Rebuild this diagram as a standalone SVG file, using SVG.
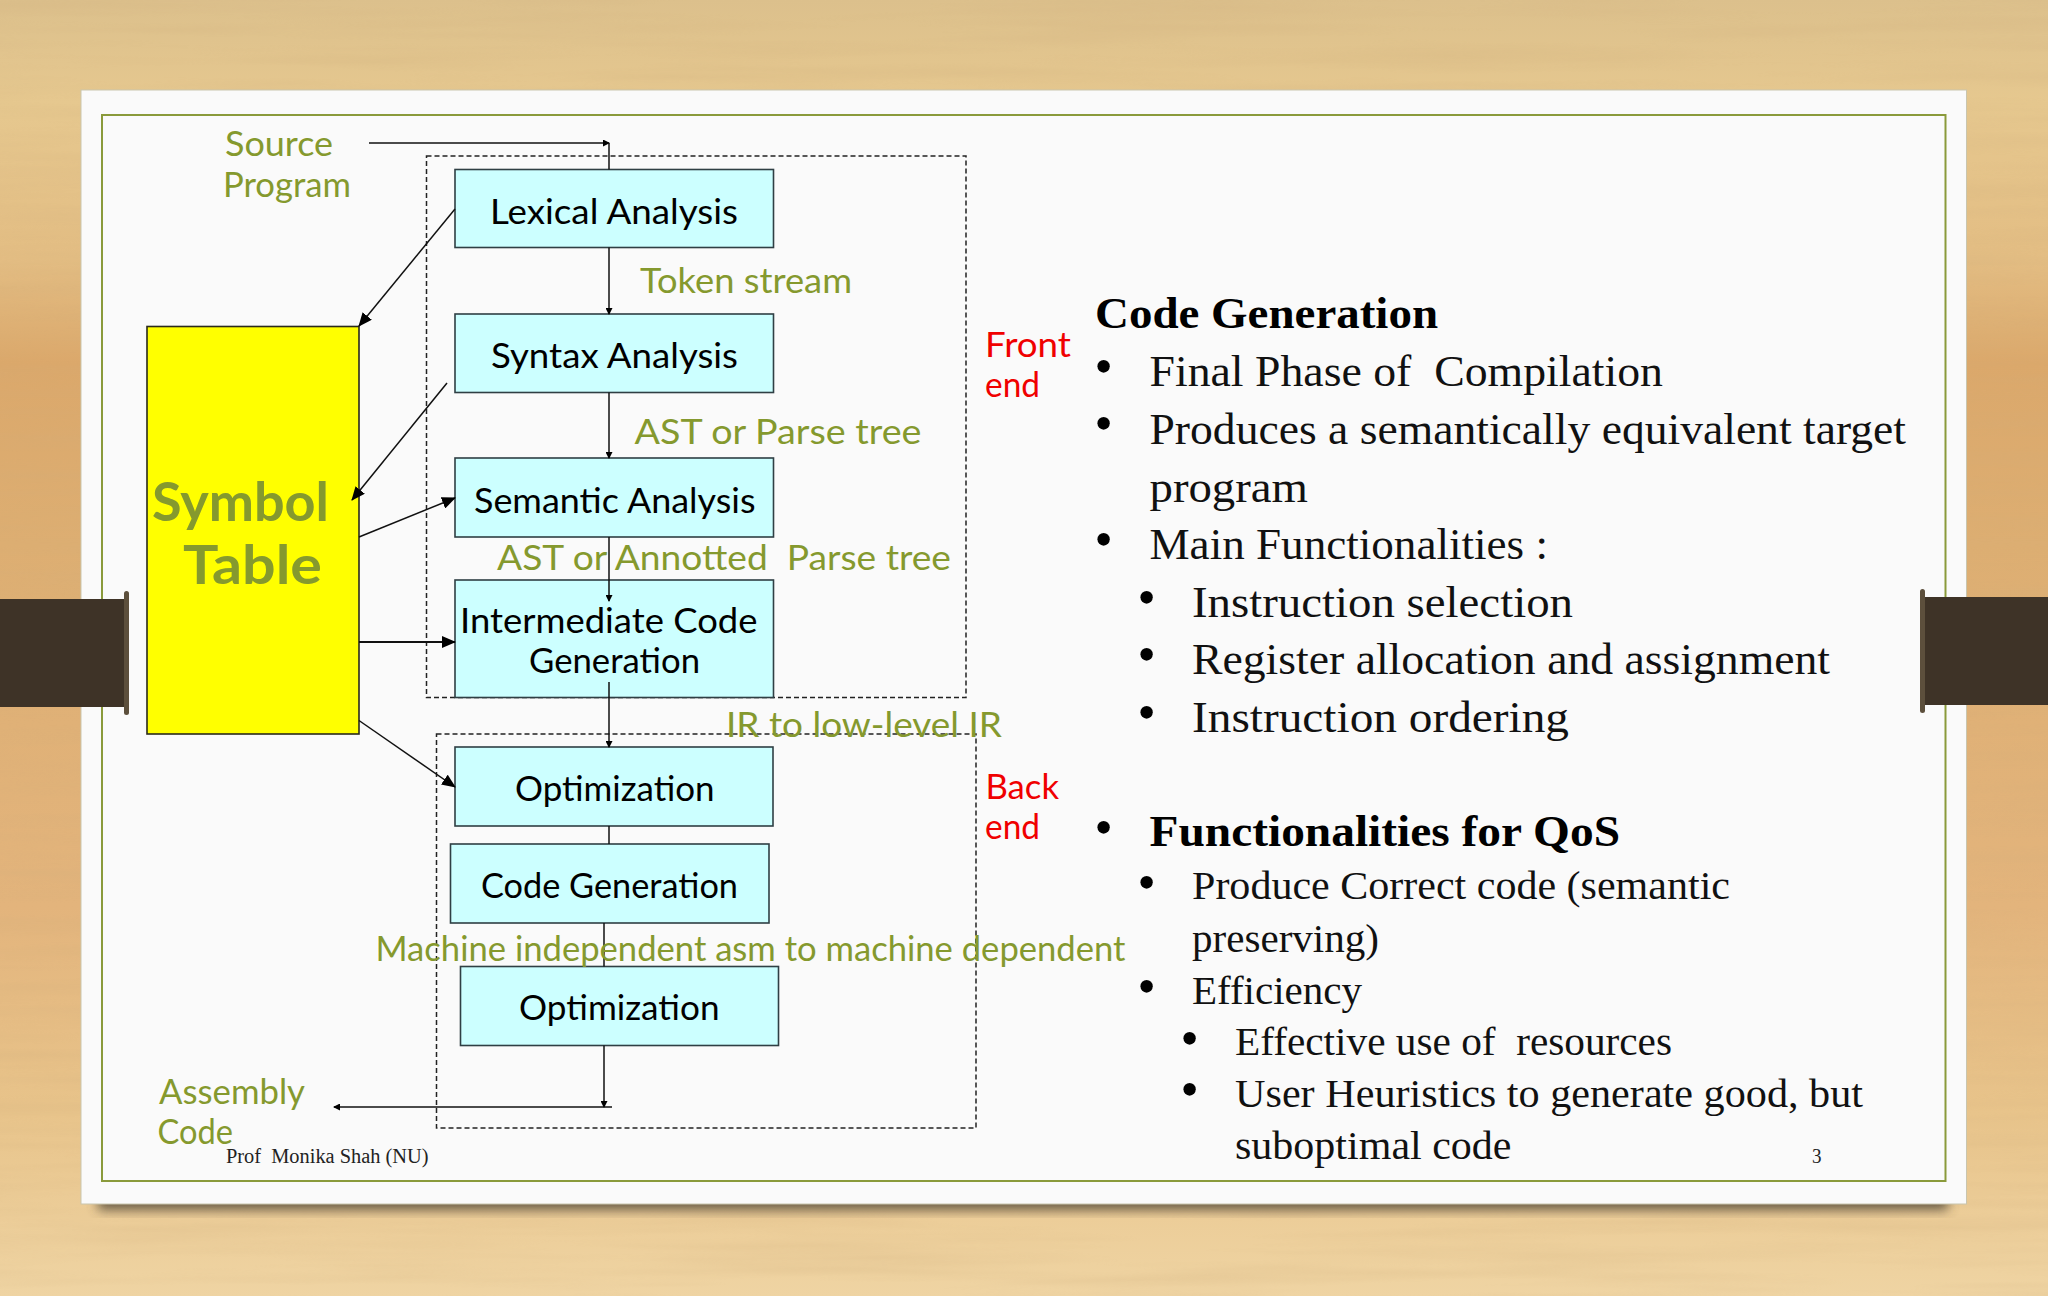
<svg xmlns="http://www.w3.org/2000/svg" width="2048" height="1296" viewBox="0 0 2048 1296">
<style>
.box{fill:#ccffff;stroke:#2f3f44;stroke-width:1.6}
.dash{fill:none;stroke:#222;stroke-width:1.5;stroke-dasharray:5 3}
.c{fill:none;stroke:#111;stroke-width:1.5}
.t{fill:none;stroke:#111;stroke-width:2.2}
.k{font-family:"Lato","DejaVu Sans",sans-serif;font-size:34px;fill:#000}
.g{font-family:"Lato","DejaVu Sans",sans-serif;font-size:34px;fill:#85992e}
.r{font-family:"Lato","DejaVu Sans",sans-serif;font-size:34px;fill:#f00000}
.sym{font-family:"Lato","DejaVu Sans",sans-serif;font-size:54px;font-weight:700;fill:#85992e}
.b1{font-family:"Liberation Serif",serif;font-size:44px;fill:#111}
.b2{font-family:"Liberation Serif",serif;font-size:40px;fill:#111}
.bb{font-weight:700;fill:#000}
.f{font-family:"Liberation Serif",serif;font-size:20px;fill:#222}
.d{font-family:"Liberation Serif",serif;font-size:52px;fill:#000;text-anchor:middle}
</style>
<defs>
<linearGradient id="wood" x1="0" y1="0" x2="0" y2="1">
<stop offset="0" stop-color="#dcc08c"/><stop offset=".08" stop-color="#e6c88f"/><stop offset=".2" stop-color="#e3bd83"/><stop offset=".28" stop-color="#dba86b"/><stop offset=".42" stop-color="#ddae72"/><stop offset=".7" stop-color="#e3b47c"/><stop offset=".86" stop-color="#e8c48b"/><stop offset="1" stop-color="#efd4a3"/>
</linearGradient>
<filter id="grain" x="0" y="0" width="100%" height="100%">
<feTurbulence type="fractalNoise" baseFrequency="0.003 0.06" numOctaves="3" seed="4"/>
<feColorMatrix type="matrix" values="0 0 0 0 .62  0 0 0 0 .42  0 0 0 0 .2  1.6 0 0 0 -.62"/>
</filter>
<filter id="soft" x="-5%" y="-20%" width="110%" height="140%"><feGaussianBlur stdDeviation="6"/></filter>
<marker id="big" markerWidth="14" markerHeight="12" refX="13" refY="6" orient="auto" markerUnits="userSpaceOnUse"><path d="M0 0L14 6L0 12Z" fill="#000"/></marker>
<marker id="small" markerWidth="7" markerHeight="7" refX="6" refY="3.5" orient="auto" markerUnits="userSpaceOnUse"><path d="M0 0L7 3.5L0 7Z" fill="#000"/></marker>
</defs>
<g id="background">
<rect width="2048" height="1296" fill="url(#wood)"/>
<rect width="2048" height="1296" filter="url(#grain)" opacity=".25"/>
</g>
<g id="slide">
<rect x="98" y="1172" width="1850" height="38" fill="#4a4030" opacity=".8" filter="url(#soft)"/>
<rect x="81" y="90" width="1885.500" height="1114" fill="#fafafa" stroke="#c9c5ad" stroke-width="1"/>
<rect x="102" y="115" width="1843.500" height="1066" fill="none" stroke="#8a9a3b" stroke-width="2"/>
</g>
<g id="straps">
<rect x="0" y="599" width="127" height="108" fill="#3e3327"/>
<rect x="124" y="591" width="5" height="124" rx="2.500" fill="#5c4f3c"/>
<rect x="1921" y="597" width="127" height="108" fill="#3e3327"/>
<rect x="1920" y="589" width="5" height="124" rx="2.500" fill="#5c4f3c"/>
</g>
<g id="frontend-box"><rect class="dash" x="426.500" y="156" width="539.500" height="541.500"/></g>
<g id="backend-box"><rect class="dash" x="436.500" y="734" width="539.500" height="394"/></g>
<g id="symbol-table">
<rect x="147" y="326.500" width="212" height="407.500" fill="#ffff00" stroke="#2a2a1a" stroke-width="1.6"/>
<text class="sym" x="152" y="521" textLength="177" lengthAdjust="spacingAndGlyphs">Symbol</text>
<text class="sym" x="183" y="584" textLength="139" lengthAdjust="spacingAndGlyphs">Table</text>
</g>
<g id="lexical"><rect class="box" x="455" y="169.500" width="318.500" height="78"/><text class="k" x="490" y="224" textLength="248" lengthAdjust="spacingAndGlyphs">Lexical Analysis</text></g>
<g id="syntax"><rect class="box" x="455" y="314" width="318.500" height="78.500"/><text class="k" x="491" y="368" textLength="247" lengthAdjust="spacingAndGlyphs">Syntax Analysis</text></g>
<g id="semantic"><rect class="box" x="455" y="458" width="318.500" height="79"/><text class="k" x="474" y="512.500" textLength="281.500" lengthAdjust="spacingAndGlyphs">Semantic Analysis</text></g>
<g id="intermediate"><rect class="box" x="455" y="580" width="318.500" height="117.500"/><text class="k" x="460" y="633" textLength="297.500" lengthAdjust="spacingAndGlyphs">Intermediate Code</text><text class="k" x="529" y="673" textLength="171" lengthAdjust="spacingAndGlyphs">Generation</text></g>
<g id="optimization1"><rect class="box" x="455" y="747" width="318" height="79"/><text class="k" x="515" y="801" textLength="199.500" lengthAdjust="spacingAndGlyphs">Optimization</text></g>
<g id="codegen"><rect class="box" x="450.500" y="844" width="318.500" height="79"/><text class="k" x="481" y="898" textLength="257" lengthAdjust="spacingAndGlyphs">Code Generation</text></g>
<g id="optimization2"><rect class="box" x="460.500" y="966.500" width="318" height="79"/><text class="k" x="519" y="1019.500" textLength="200.500" lengthAdjust="spacingAndGlyphs">Optimization</text></g>
<g id="connectors">
<path class="c" d="M369 143H609" marker-end="url(#small)"/>
<path class="c" d="M609 143V169.500"/>
<path class="c" d="M609 247.500V314" marker-end="url(#small)"/>
<path class="c" d="M609 392.500V458" marker-end="url(#small)"/>
<path class="c" d="M609 537V601" marker-end="url(#small)"/>
<path class="c" d="M609 682V747" marker-end="url(#small)"/>
<path class="c" d="M609 826V844"/>
<path class="c" d="M604 923V966.500"/>
<path class="c" d="M604 1045.500V1107" marker-end="url(#small)"/>
<path class="c" d="M612 1107H334" marker-end="url(#small)"/>
<path class="c" d="M455 209L359 326" marker-end="url(#big)"/>
<path class="c" d="M447 383L352 500" marker-end="url(#big)"/>
<path class="c" d="M359 537L455 498" marker-end="url(#big)"/>
<path class="t" d="M359 642H455" marker-end="url(#big)"/>
<path class="c" d="M359 720.500L455 787" marker-end="url(#big)"/>
</g>
<g id="labels">
<text class="g" x="225" y="155.500" textLength="108" lengthAdjust="spacingAndGlyphs">Source</text>
<text class="g" x="223" y="196.500" textLength="128" lengthAdjust="spacingAndGlyphs">Program</text>
<text class="g" x="640" y="293" textLength="212" lengthAdjust="spacingAndGlyphs">Token stream</text>
<text class="g" x="634.500" y="444" textLength="287" lengthAdjust="spacingAndGlyphs">AST or Parse tree</text>
<text class="g" x="497" y="570" textLength="454" lengthAdjust="spacingAndGlyphs" xml:space="preserve">AST or Annotted  Parse tree</text>
<text class="g" x="726" y="737" textLength="276" lengthAdjust="spacingAndGlyphs">IR to low-level IR</text>
<text class="g" x="375.500" y="960.500" textLength="750" lengthAdjust="spacingAndGlyphs">Machine independent asm to machine dependent</text>
<text class="g" x="159" y="1104" textLength="146" lengthAdjust="spacingAndGlyphs">Assembly</text>
<text class="g" x="157.500" y="1144" textLength="75.500" lengthAdjust="spacingAndGlyphs">Code</text>
<text class="r" x="985" y="357" textLength="86" lengthAdjust="spacingAndGlyphs">Front</text>
<text class="r" x="985" y="397" textLength="55" lengthAdjust="spacingAndGlyphs">end</text>
<text class="r" x="985.500" y="798.500" textLength="73.500" lengthAdjust="spacingAndGlyphs">Back</text>
<text class="r" x="985" y="839" textLength="55" lengthAdjust="spacingAndGlyphs">end</text>
<text class="f" x="226" y="1163" textLength="202.500" lengthAdjust="spacingAndGlyphs" xml:space="preserve">Prof  Monika Shah (NU)</text>
<text class="f" x="1812" y="1163" textLength="9.500" lengthAdjust="spacingAndGlyphs">3</text>
</g>
<g id="body-text">
<text class="b1 bb" x="1095" y="328" textLength="343" lengthAdjust="spacingAndGlyphs">Code Generation</text>
<text class="d" x="1103.500" y="384">•</text>
<text class="b1" x="1149.500" y="386" textLength="513.500" lengthAdjust="spacingAndGlyphs" xml:space="preserve">Final Phase of  Compilation</text>
<text class="d" x="1103.500" y="441">•</text>
<text class="b1" x="1149.500" y="444" textLength="756.500" lengthAdjust="spacingAndGlyphs">Produces a semantically equivalent target</text>
<text class="b1" x="1149.500" y="501.500" textLength="158.500" lengthAdjust="spacingAndGlyphs">program</text>
<text class="d" x="1103.500" y="557">•</text>
<text class="b1" x="1149.500" y="559" textLength="398.500" lengthAdjust="spacingAndGlyphs">Main Functionalities :</text>
<text class="d" x="1146.500" y="615">•</text>
<text class="b1" x="1192" y="616.500" textLength="381" lengthAdjust="spacingAndGlyphs">Instruction selection</text>
<text class="d" x="1146.500" y="672">•</text>
<text class="b1" x="1192" y="674" textLength="638" lengthAdjust="spacingAndGlyphs">Register allocation and assignment</text>
<text class="d" x="1146.500" y="730">•</text>
<text class="b1" x="1192" y="731.500" textLength="377" lengthAdjust="spacingAndGlyphs">Instruction ordering</text>
<text class="d" x="1103.500" y="845">•</text>
<text class="b1 bb" x="1149.500" y="846" textLength="470.500" lengthAdjust="spacingAndGlyphs">Functionalities for QoS</text>
<text class="d" x="1146.500" y="900">•</text>
<text class="b2" x="1192" y="899" textLength="538" lengthAdjust="spacingAndGlyphs">Produce Correct code (semantic</text>
<text class="b2" x="1192" y="952" textLength="187" lengthAdjust="spacingAndGlyphs">preserving)</text>
<text class="d" x="1146.500" y="1003.500">•</text>
<text class="b2" x="1192" y="1003.500" textLength="170" lengthAdjust="spacingAndGlyphs">Efficiency</text>
<text class="d" x="1189.500" y="1056">•</text>
<text class="b2" x="1235" y="1055" textLength="437" lengthAdjust="spacingAndGlyphs" xml:space="preserve">Effective use of  resources</text>
<text class="d" x="1189.500" y="1107">•</text>
<text class="b2" x="1235" y="1107" textLength="628" lengthAdjust="spacingAndGlyphs">User Heuristics to generate good, but</text>
<text class="b2" x="1235" y="1158.500" textLength="276.500" lengthAdjust="spacingAndGlyphs">suboptimal code</text>
</g>
</svg>
